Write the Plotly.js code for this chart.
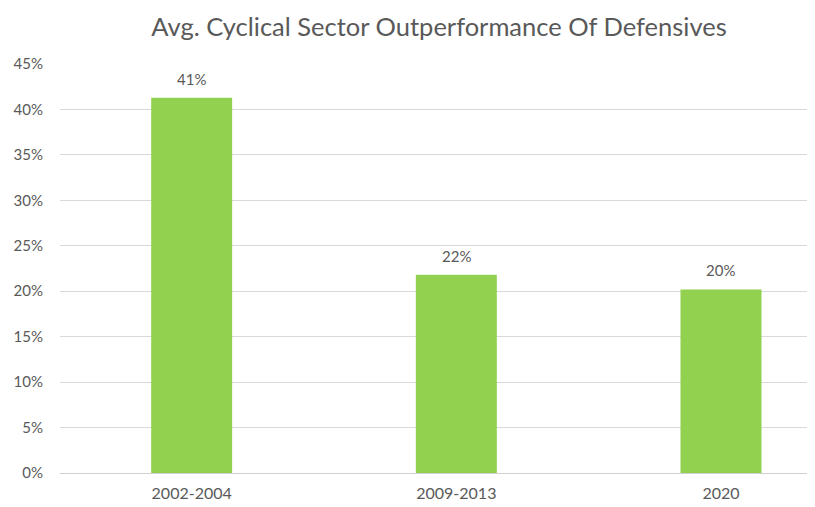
<!DOCTYPE html>
<html>
<head>
<meta charset="utf-8">
<script src="https://cdn.plot.ly/plotly-3.0.1.min.js"></script>
<style>html,body{margin:0;padding:0;background:#fff;}#chart{width:815px;height:507px;}</style>
</head>
<body>
<div id="chart"></div>
<script>
const categories = ["2002-2004", "2009-2013", "2020"];
const values = [41.3, 21.8, 20.2];
const labels = ["41%", "22%", "20%"];
const yTickVals = [0, 5, 10, 15, 20, 25, 30, 35, 40, 45];
const yTickText = ["0%", "5%", "10%", "15%", "20%", "25%", "30%", "35%", "40%", "45%"];

const grey = "#595959";
const fontFam = "Lato, 'Open Sans', sans-serif";

const trace = {
  type: "bar",
  x: categories,
  y: values,
  width: categories.map(() => 0.306),
  marker: { color: "#92D050", line: { width: 0 } },
  hoverinfo: "skip"
};

const annotations = categories.map((c, i) => ({
  x: i, y: values[i], text: labels[i], showarrow: false,
  xref: "x", yref: "y",
  xanchor: "center", yanchor: "bottom", yshift: 8,
  font: { family: fontFam, size: 15, color: grey }
}));

const layout = {
  width: 815, height: 507,
  margin: { l: 60, r: 8, t: 64, b: 34 },
  paper_bgcolor: "#fff", plot_bgcolor: "#fff",
  title: {
    text: "Avg. Cyclical Sector Outperformance Of Defensives",
    font: { family: fontFam, size: 25.5, color: grey },
    x: 0.5387, xanchor: "center", y: 0.947, yanchor: "middle"
  },
  showlegend: false,
  xaxis: {
    type: "category",
    range: [-0.4975, 2.325],
    showgrid: false, zeroline: false,
    showline: false,
    ticks: "",
    tickfont: { family: fontFam, size: 16, color: grey },
    ticklabelstandoff: 9
  },
  yaxis: {
    range: [0, 45],
    tickmode: "array",
    tickvals: yTickVals,
    ticktext: yTickText,
    showgrid: true, gridcolor: "#d9d9d9", gridwidth: 1,
    zeroline: true, zerolinecolor: "#d0d0d0", zerolinewidth: 1,
    ticks: "",
    tickfont: { family: fontFam, size: 15, color: grey },
    ticklabelstandoff: 16
  },
  annotations: annotations
};

Plotly.newPlot("chart", [trace], layout, { displayModeBar: false, staticPlot: true });
</script>
</body>
</html>
